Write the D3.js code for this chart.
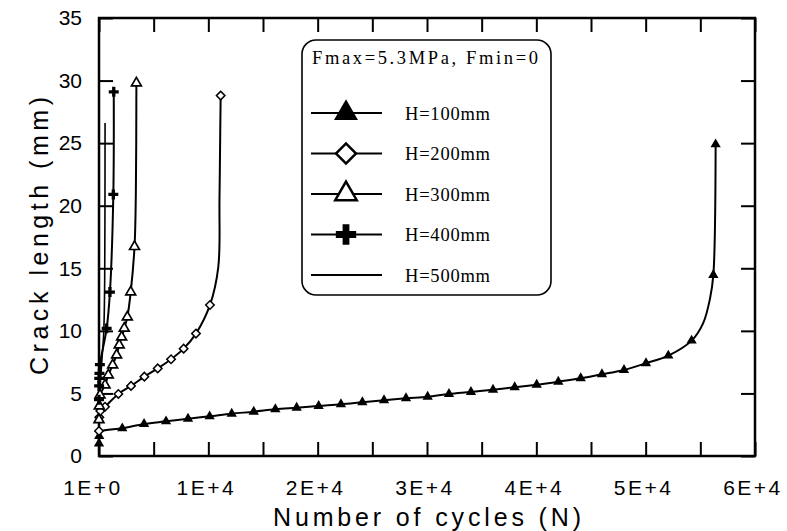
<!DOCTYPE html>
<html>
<head>
<meta charset="utf-8">
<script src="https://cdn.jsdelivr.net/npm/d3@7"></script>
<style>
  html, body { margin: 0; padding: 0; background: #fff; }
  svg { display: block; }
</style>
</head>
<body>
<svg id="chart" width="787" height="531"></svg>
<script>
// Crack length a (mm) against number of cycles N, for five specimen heights.
// "Pts" are the measured points (drawn with markers); "Knots" are extra
// points on the fitted curve only.
const h100Pts = [[0,1.0],[20,1.6],[2130,2.21],[4120,2.56],[6130,2.77],[8140,2.98],[10120,3.17],
  [12140,3.38],[14150,3.54],[16130,3.73],[18080,3.86],[20090,4.0],[22130,4.13],[24090,4.29],
  [26070,4.45],[28080,4.61],[30060,4.74],[32010,4.96],[34020,5.12],[36040,5.30],[38020,5.49],
  [40030,5.70],[42010,5.94],[44060,6.21],[46000,6.53],[48020,6.87],[50030,7.41],[52070,8.02],
  [54200,9.22],[56190,14.47],[56400,24.9]];
const h100Knots = [[150,1.95],[55250,10.6],[55890,12.6]];

const h200Pts = [[0,2.0],[30,3.1],[120,3.6],[550,3.94],[1770,4.96],[2930,5.6],[4150,6.34],
  [5370,7.0],[6590,7.73],[7740,8.58],[8870,9.78],[10150,12.07],[11130,28.8]];
const h200Knots = [[10910,15.1],[11020,20.5],[11090,26.0]];

const h300Pts = [[0,2.9],[30,4.0],[90,4.87],[550,5.67],[850,6.47],[1250,7.27],[1610,8.07],
  [1850,8.87],[2070,9.5],[2310,10.2],[2590,11.1],[2900,13.1],[3250,16.73],[3420,29.8]];
const h300Knots = [[3370,21.0]];

const h400Pts = [[0,4.5],[10,5.6],[20,6.2],[40,6.6],[80,7.3],[700,10.2],[1000,13.1],
  [1310,20.9],[1350,29.1]];
const h400Knots = [];

const h500Pts = [];
const h500Knots = [[0,3.9],[100,5.5],[250,7.5],[430,9.8],[520,14.0],[545,20.0],[555,26.6]];

const seriesNames = ["H=100mm","H=200mm","H=300mm","H=400mm","H=500mm"];
const legendTitle = "Fmax=5.3MPa, Fmin=0";

const xTickValues = [0,5000,10000,15000,20000,25000,30000,35000,40000,45000,50000,55000,60000];
const xLabelValues = [0,10000,20000,30000,40000,50000,60000];
const xLabelTexts = ["1E+0","1E+4","2E+4","3E+4","4E+4","5E+4","6E+4"];
const yTickValues = [0,5,10,15,20,25,30,35];

const xTitle = "Number of cycles (N)";
const yTitle = "Crack length (mm)";

// ---- layout ----
const svg = d3.select("#chart");
const plotL = 99, plotR = 755, plotT = 18, plotB = 456;
const x = d3.scaleLinear().domain([0,60000]).range([plotL,plotR]);
const y = d3.scaleLinear().domain([0,35]).range([plotB,plotT]);

const sansFont = "'Liberation Sans', Arial, Helvetica, sans-serif";
const serifFont = "'Liberation Serif', 'Times New Roman', serif";

// inward ticks on all four sides
function styleAxis(g) {
  g.select(".domain").remove();
  g.selectAll(".tick line").attr("stroke","#000").attr("stroke-width",2);
}
svg.append("g").attr("transform",`translate(0,${plotB})`)
  .call(d3.axisBottom(x).tickValues(xTickValues).tickSize(-14).tickFormat(""))
  .call(styleAxis);
svg.append("g").attr("transform",`translate(0,${plotT})`)
  .call(d3.axisTop(x).tickValues(xTickValues).tickSize(-14).tickFormat(""))
  .call(styleAxis);
svg.append("g").attr("transform",`translate(${plotR},0)`)
  .call(d3.axisRight(y).tickValues(yTickValues).tickSize(-14).tickFormat(""))
  .call(styleAxis);
const yAxisG = svg.append("g").attr("transform",`translate(${plotL},0)`)
  .call(d3.axisLeft(y).tickValues(yTickValues).tickSize(-14).tickPadding(17).tickFormat(d3.format("d")))
  .call(styleAxis);
yAxisG.selectAll("text").attr("font-family",sansFont).attr("font-size",21).attr("fill","#000");

// x tick labels
svg.append("g").selectAll("text").data(xLabelValues).join("text")
  .attr("x",(d,i) => x(d) + (i === 0 ? -6 : -2))
  .attr("y",495)
  .attr("text-anchor","middle")
  .attr("font-family",sansFont).attr("font-size",21)
  .attr("letter-spacing","2.5px")
  .text((d,i) => xLabelTexts[i]);

// frame
svg.append("rect").attr("x",plotL).attr("y",plotT)
  .attr("width",plotR-plotL).attr("height",plotB-plotT)
  .attr("fill","none").attr("stroke","#000").attr("stroke-width",2.5);

// axis titles
svg.append("text").attr("x",427).attr("y",526).attr("text-anchor","middle")
  .attr("font-family",sansFont).attr("font-size",25)
  .attr("textLength",308).attr("lengthAdjust","spacing")
  .text(xTitle);
svg.append("text").attr("transform","translate(48,236) rotate(-90)")
  .attr("text-anchor","middle")
  .attr("font-family",sansFont).attr("font-size",25)
  .attr("textLength",278).attr("lengthAdjust","spacing")
  .text(yTitle);

// ---- curves & markers ----
const series = [
  {pts:h100Pts, knots:h100Knots, marker:"tri-filled", width:2},
  {pts:h200Pts, knots:h200Knots, marker:"diamond", width:2},
  {pts:h300Pts, knots:h300Knots, marker:"tri-open", width:2},
  {pts:h400Pts, knots:h400Knots, marker:"plus", width:2},
  {pts:h500Pts, knots:h500Knots, marker:null, width:1.6}
];

const line = d3.line().x(d => x(d[0])).y(d => y(d[1]))
  .curve(d3.curveCatmullRom.alpha(0.5));

const plot = svg.append("g");
series.forEach(s => {
  const all = s.pts.concat(s.knots).slice().sort((a,b) => a[1]-b[1]);
  plot.append("path").attr("d",line(all))
    .attr("fill","none").attr("stroke","#000")
    .attr("stroke-width",s.width).attr("stroke-linejoin","round");
});

function markerPath(kind, big) {
  if (kind === "tri-filled") return d3.symbol(d3.symbolTriangle, big ? 250 : 46)();
  if (kind === "tri-open") return d3.symbol(d3.symbolTriangle, big ? 200 : 42)();
  if (kind === "diamond") return d3.symbol(d3.symbolSquare, big ? 200 : 36)();
  if (kind === "plus") return d3.symbol(d3.symbolCross, big ? 230 : 55)();
  return null;
}
function drawMarker(g, kind, cx, cy, big) {
  const p = markerPath(kind, big);
  if (!p) return;
  const el = g.append("path").attr("d",p);
  if (kind === "diamond") {
    el.attr("transform",`translate(${cx},${cy}) rotate(45)`)
      .attr("fill","#fff").attr("stroke","#000").attr("stroke-width", big ? 2.5 : 1.5);
  } else if (kind === "tri-open") {
    el.attr("transform",`translate(${cx},${cy})`)
      .attr("fill","#fff").attr("stroke","#000").attr("stroke-width", big ? 2.5 : 1.7)
      .attr("stroke-linejoin","miter");
  } else {
    el.attr("transform",`translate(${cx},${cy})`).attr("fill","#000");
  }
}

series.forEach(s => {
  if (!s.marker) return;
  const g = plot.append("g");
  s.pts.forEach(d => drawMarker(g, s.marker, x(d[0]), y(d[1]), false));
});

// ---- legend ----
const lg = svg.append("g");
lg.append("rect").attr("x",302).attr("y",40).attr("width",249).attr("height",255)
  .attr("rx",14).attr("ry",14)
  .attr("fill","#fff").attr("stroke","#000").attr("stroke-width",1.6);
lg.append("text").attr("x",312).attr("y",64)
  .attr("font-family",serifFont).attr("font-size",18.5)
  .attr("textLength",226).attr("lengthAdjust","spacing")
  .text(legendTitle);

const rowY = d3.scaleLinear().domain([0,4]).range([113,275]);
series.forEach((s,i) => {
  const cy = rowY(i);
  lg.append("line").attr("x1",311).attr("x2",382).attr("y1",cy).attr("y2",cy)
    .attr("stroke","#000").attr("stroke-width",2);
  drawMarker(lg, s.marker, 346, cy, true);
  lg.append("text").attr("x",405).attr("y",cy+6.5)
    .attr("font-family",serifFont).attr("font-size",18.5)
    .attr("textLength",85).attr("lengthAdjust","spacing")
    .text(seriesNames[i]);
});
</script>
</body>
</html>
